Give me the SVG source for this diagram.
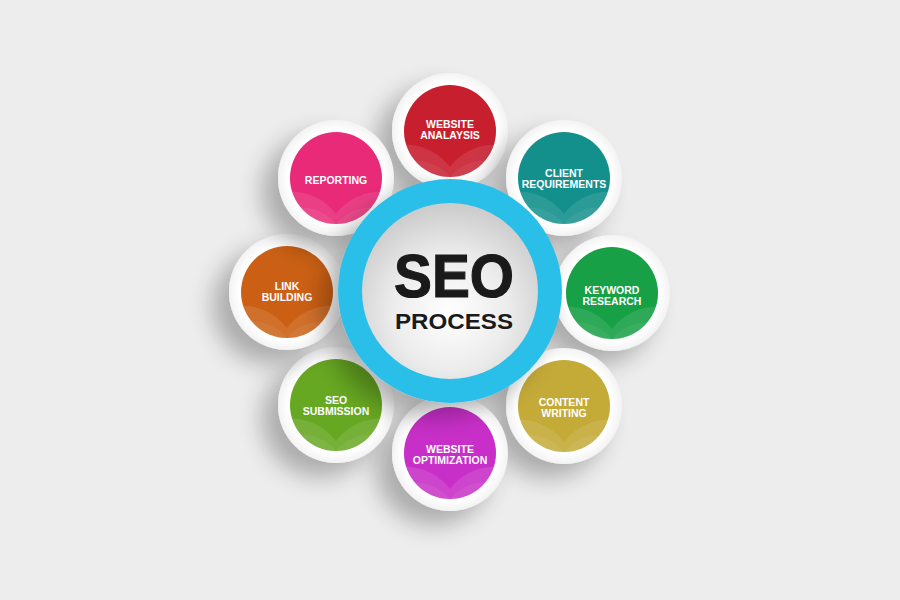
<svg xmlns="http://www.w3.org/2000/svg" xmlns:xlink="http://www.w3.org/1999/xlink" width="900" height="600" viewBox="0 0 900 600">
<style>
.ring{fill:url(#rim);filter:url(#sh);}
.lbl{font-family:"Liberation Sans",Arial,sans-serif;font-weight:bold;font-size:10.5px;fill:#ffffff;text-anchor:middle;}
.big{font-family:"Liberation Sans",Arial,sans-serif;font-weight:bold;fill:#1a1a1a;text-anchor:middle;}
</style>
<defs>
<filter id="sh" x="-80%" y="-80%" width="260%" height="260%">
<feGaussianBlur in="SourceAlpha" stdDeviation="12"/>
<feOffset dx="-16" dy="14" result="b"/>
<feComponentTransfer><feFuncA type="linear" slope="0.28"/></feComponentTransfer>
<feMerge><feMergeNode/><feMergeNode in="SourceGraphic"/></feMerge>
</filter>
<radialGradient id="core" cx="50%" cy="62%" r="60%">
<stop offset="0" stop-color="#ffffff"/>
<stop offset="0.55" stop-color="#ececec"/>
<stop offset="1" stop-color="#cdcdcd"/>
</radialGradient>
<radialGradient id="rim" cx="50%" cy="50%" r="50%">
<stop offset="0.82" stop-color="#ffffff"/>
<stop offset="1" stop-color="#f3f3f3"/>
</radialGradient>
<clipPath id="cc"><circle r="46"/></clipPath>
<g id="hl" clip-path="url(#cc)">
<path d="M-48,14 C-30,12 -10,22 0,36 C10,22 30,12 48,14 L48,50 L-48,50 Z" fill="#ffffff" opacity="0.1"/>
<path d="M-48,30 C-25,26 -8,36 0,46 C8,36 25,26 48,30 L48,50 L-48,50 Z" fill="#ffffff" opacity="0.06"/>
</g>
</defs>
<rect width="900" height="600" fill="#ededed"/>

<g id="node-website-analysis" transform="translate(450,131)">
<circle class="ring" r="58"/>
<circle r="46" fill="#c81f2f"/>
<use xlink:href="#hl"/>
<text class="lbl"><tspan x="0" y="-3">WEBSITE</tspan><tspan x="0" y="8">ANALAYSIS</tspan></text>
</g>
<g id="node-client-requirements" transform="translate(564,178)">
<circle class="ring" r="58"/>
<circle r="46" fill="#13908c"/>
<use xlink:href="#hl"/>
<text class="lbl"><tspan x="0" y="-1">CLIENT</tspan><tspan x="0" y="10">REQUIREMENTS</tspan></text>
</g>
<g id="node-keyword-research" transform="translate(612,293)">
<circle class="ring" r="58"/>
<circle r="46" fill="#17a045"/>
<use xlink:href="#hl"/>
<text class="lbl"><tspan x="0" y="1">KEYWORD</tspan><tspan x="0" y="12">RESEARCH</tspan></text>
</g>
<g id="node-content-writing" transform="translate(564,406)">
<circle class="ring" r="58"/>
<circle r="46" fill="#c4aa37"/>
<use xlink:href="#hl"/>
<text class="lbl"><tspan x="0" y="0">CONTENT</tspan><tspan x="0" y="11">WRITING</tspan></text>
</g>
<g id="node-website-optimization" transform="translate(450,453)">
<circle class="ring" r="58"/>
<circle r="46" fill="#c82fc8"/>
<use xlink:href="#hl"/>
<text class="lbl"><tspan x="0" y="0">WEBSITE</tspan><tspan x="0" y="11">OPTIMIZATION</tspan></text>
</g>
<g id="node-seo-submission" transform="translate(336,405)">
<circle class="ring" r="58"/>
<circle r="46" fill="#67a822"/>
<use xlink:href="#hl"/>
<text class="lbl"><tspan x="0" y="-1">SEO</tspan><tspan x="0" y="10">SUBMISSION</tspan></text>
</g>
<g id="node-link-building" transform="translate(287,292)">
<circle class="ring" r="58"/>
<circle r="46" fill="#cb6014"/>
<use xlink:href="#hl"/>
<text class="lbl"><tspan x="0" y="-2">LINK</tspan><tspan x="0" y="9">BUILDING</tspan></text>
</g>
<g id="node-reporting" transform="translate(336,178)">
<circle class="ring" r="58"/>
<circle r="46" fill="#e92a78"/>
<use xlink:href="#hl"/>
<text class="lbl"><tspan x="0" y="6">REPORTING</tspan></text>
</g>

<g id="connectors"></g>

<g id="node-seo-process" transform="translate(450,291)">
<circle r="112" fill="#2bbfe9" filter="url(#sh)"/>
<circle r="88" fill="url(#core)"/>
<text class="big" x="4" y="6" font-size="62" stroke="#1a1a1a" stroke-width="1.2" textLength="120" lengthAdjust="spacingAndGlyphs">SEO</text>
<text class="big" x="4" y="38" font-size="22" textLength="118" lengthAdjust="spacingAndGlyphs">PROCESS</text>
</g>
</svg>
